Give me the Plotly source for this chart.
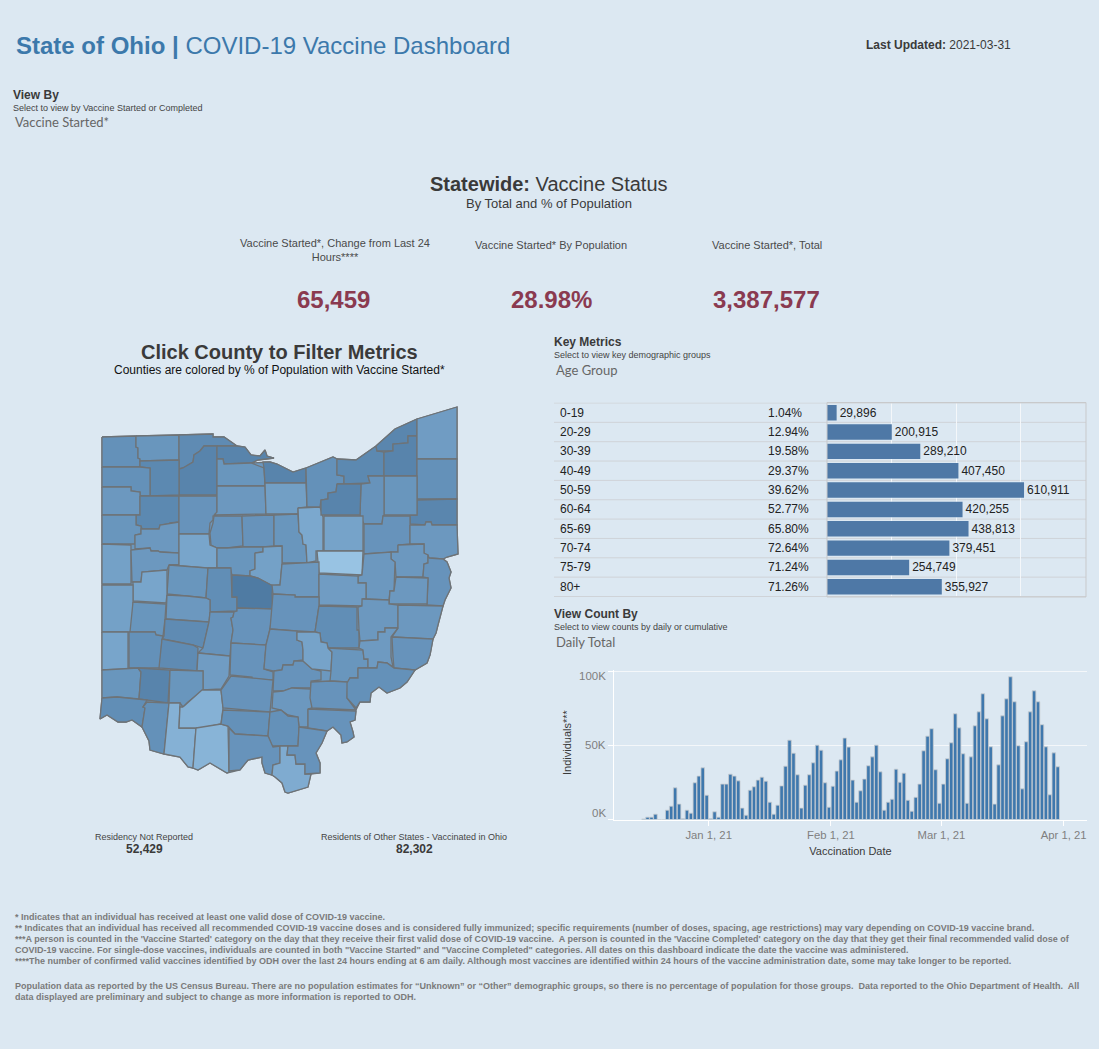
"""
State of Ohio COVID-19 vaccine dashboard, one page drawn with Plotly.
"""
import pandas as pd
import plotly.graph_objects as go
from plotly.colors import sample_colorscale

WIDTH = 1099
HEIGHT = 1049
BG = "#dce8f2"
FONT = "Liberation Sans"
DARK = "#3a3a3a"
SELECT_FONT = "Lato"

age_groups = ["0-19", "20-29", "30-39", "40-49", "50-59", "60-64", "65-69", "70-74", "75-79", "80+"]
age_pct = ["1.04%", "12.94%", "19.58%", "29.37%", "39.62%", "52.77%", "65.80%", "72.64%", "71.24%", "71.26%"]
age_started = [29896, 200915, 289210, 407450, 610911, 420255, 438813, 379451, 254749, 355927]

kpi_titles = ["Vaccine Started*, Change from Last 24<br>Hours****", "Vaccine Started* By Population", "Vaccine Started*, Total"]
kpi_values = ["65,459", "28.98%", "3,387,577"]

# first bar is 2020-12-15, last is 2021-03-30
first_day = "2020-12-15 12:00"
daily_started = [
    400, 1600, 1600, 3600, 0, 0, 6300, 9000, 21400, 10400, 500, 6300, 4300, 24800, 29300, 34900, 16400,
    500, 5200, 1600, 23900, 23900, 30600, 29300, 26100, 7700, 2900, 19800, 22100, 26600, 28600, 25900,
    11700, 3600, 9700, 22700, 36000, 53600, 44800, 30200, 7700, 23200, 30200, 38300, 50200, 46800, 24800, 8300,
    22500, 32700, 40300, 55000, 48900, 26600, 11700, 19400, 27300, 36300, 42300, 50200, 32200, 6300,
    11700, 13700, 34000, 25200, 31300, 13000, 5600, 15000, 23900, 46400, 56300, 61300, 33600, 11000,
    23900, 41000, 51800, 71400, 61900, 44400, 11000, 42300, 63300, 72700, 84900, 68000, 49100, 10400,
    36900, 70000, 81500, 96400, 79500, 49800, 20700, 52500, 72700, 86900, 79500, 64000, 49100, 16700,
    45000, 35600,
]
date_ticks = ["2021-01-01", "2021-02-01", "2021-03-01", "2021-04-01"]
count_ticks = [0, 50000, 100000]
count_tick_labels = ["0K", "50K", "100K"]

county_names = [
    "Williams", "Fulton", "Lucas", "Wood", "Ottawa", "Sandusky", "Erie", "Henry", "Defiance", "Paulding",
    "Putnam", "Van Wert", "Allen", "Hancock", "Seneca", "Huron", "Wyandot", "Crawford", "Richland", "Ashland",
    "Lorain", "Cuyahoga", "Lake", "Geauga", "Ashtabula", "Trumbull", "Mahoning", "Portage", "Summit", "Medina",
    "Wayne", "Stark", "Columbiana", "Holmes", "Carroll", "Tuscarawas", "Jefferson", "Harrison", "Mercer", "Auglaize",
    "Hardin", "Delaware", "Morrow", "Logan", "Union", "Shelby", "Champaign", "Darke", "Miami", "Clark",
    "Madison", "Franklin", "Fairfield", "Knox", "Coshocton", "Muskingum", "Guernsey", "Belmont", "Monroe", "Preble",
    "Montgomery", "Greene", "Fayette", "Pickaway", "Hocking", "Vinton", "Morgan", "Noble", "Perry", "Marion",
    "Butler", "Warren", "Clinton", "Hamilton", "Clermont", "Brown", "Highland", "Adams", "Ross", "Pike",
    "Licking", "Athens", "Washington", "Jackson", "Gallia", "Scioto", "Lawrence", "Meigs",
]
county_pct = [
    28, 26, 30, 33, 33, 26, 33, 31, 28, 25,
    31, 26, 25, 27, 25, 23.5, 27, 27, 26, 21.5,
    28, 31, 32, 33, 24, 28, 32, 26, 27, 33,
    22.5, 27, 25, 17, 25, 25, 27, 25, 23, 25,
    22, 26, 23, 26, 29, 22, 25, 23, 26, 30,
    27, 38, 27, 25, 24, 27, 29, 25, 25, 22,
    28, 30, 24, 27, 27, 27, 22.5, 26, 24.5, 27,
    26, 33, 26, 29, 28, 20, 20, 19.5, 27, 28,
    25, 27, 28, 28, 27, 27, 21, 27,
]
county_outlines = [
    [(102,437),(136,436),(136,447),(138,448),(138,458),(140,459),(140,467),(102,467)],
    [(136,436),(179,435),(179,460),(140,461),(140,459),(138,458),(138,448),(136,447)],
    [(179,435),(213,434),(213,437),(224,437),(237,446),(204,446),(200,451),(194,455),(193,462),(183,468),(179,469)],
    [(179,469),(183,468),(193,462),(194,455),(200,451),(204,446),(217,446),(217,495),(179,495)],
    [(217,446),(237,446),(245,447),(251,455),(260,456),(265,450),(267,456),(274,458),(258,460),(251,463),(224,464),(223,459),(217,459)],
    [(217,459),(223,459),(224,464),(251,463),(264,468),(265,486),(217,486)],
    [(264,468),(263,462),(270,462),(277,464),(293,472),(306,468),(306,483),(265,483)],
    [(140,461),(179,460),(179,495),(150,496),(150,468),(140,467)],
    [(102,467),(140,467),(150,468),(150,496),(140,496),(140,492),(131,491),(131,487),(102,487)],
    [(102,487),(131,487),(131,491),(140,492),(140,515),(102,515)],
    [(140,496),(179,496),(179,522),(170,523),(168,524),(160,525),(159,529),(142,529),(141,526),(136,525),(136,515),(140,515)],
    [(102,515),(136,515),(136,525),(141,526),(141,534),(135,535),(135,544),(102,544)],
    [(135,535),(141,534),(141,529),(142,529),(159,529),(160,525),(168,524),(170,523),(179,522),(179,553),(160,552),(158,551),(151,551),(150,548),(135,549),(135,544)],
    [(179,496),(217,496),(217,515),(213,516),(213,520),(210,523),(209,534),(179,534)],
    [(217,486),(265,486),(266,514),(214,515),(217,512)],
    [(265,483),(306,483),(307,507),(298,508),(298,514),(266,514)],
    [(214,516),(242,516),(243,546),(227,548),(217,548),(211,545),(210,533),(213,523)],
    [(242,516),(274,515),(274,546),(263,547),(243,547)],
    [(274,515),(298,514),(299,532),(302,535),(303,544),(306,545),(307,563),(282,563),(282,546),(274,546)],
    [(298,508),(320,507),(323,517),(323,551),(316,551),(316,561),(307,563),(306,545),(303,544),(302,535),(299,532)],
    [(306,468),(333,457),(337,459),(337,475),(344,476),(344,484),(337,484),(336,492),(328,493),(328,499),(321,500),(320,507),(307,507),(306,483)],
    [(337,459),(356,460),(376,446),(377,451),(384,452),(384,476),(368,476),(370,483),(344,484),(344,476),(337,475)],
    [(376,446),(395,429),(417,419),(417,436),(408,436),(408,443),(393,444),(393,451),(377,451)],
    [(384,452),(393,451),(393,444),(408,443),(408,436),(417,436),(417,476),(384,476)],
    [(417,419),(457,407),(457,459),(417,459)],
    [(417,459),(457,459),(457,499),(417,499)],
    [(417,500),(457,499),(457,525),(432,525),(431,522),(426,522),(425,525),(410,524),(410,515),(417,515)],
    [(384,476),(417,476),(417,515),(384,515)],
    [(361,484),(370,483),(368,476),(384,476),(384,515),(383,516),(382,524),(364,524),(360,515)],
    [(337,484),(361,484),(360,515),(321,515),(321,500),(328,499),(328,493),(336,492)],
    [(324,516),(363,516),(363,551),(324,551)],
    [(364,524),(382,524),(383,516),(410,516),(410,544),(398,545),(398,552),(364,554)],
    [(410,525),(425,525),(426,522),(431,522),(432,525),(457,525),(458,554),(447,557),(443,559),(429,558),(424,553),(424,544),(410,544)],
    [(317,551),(363,551),(362,575),(319,573)],
    [(398,545),(424,544),(424,553),(428,555),(428,563),(424,564),(423,577),(396,577),(395,562),(391,559),(391,552),(398,552)],
    [(364,554),(391,552),(391,559),(395,562),(394,591),(390,591),(389,600),(363,599),(366,599),(366,583),(358,583),(358,576),(362,575)],
    [(429,558),(443,559),(447,562),(451,572),(449,578),(451,588),(445,600),(443,606),(427,605),(428,578),(423,577),(424,564),(428,563),(428,555)],
    [(396,577),(428,578),(427,604),(389,604),(390,591),(394,591)],
    [(102,544),(131,545),(131,584),(102,584)],
    [(131,550),(150,548),(151,551),(158,551),(160,552),(179,553),(179,565),(169,565),(167,570),(142,572),(141,582),(132,582)],
    [(179,534),(209,534),(210,545),(217,548),(217,568),(208,568),(169,565),(179,565)],
    [(217,548),(227,548),(243,547),(263,547),(263,552),(255,553),(255,569),(250,571),(250,576),(232,575),(230,568),(217,568)],
    [(255,553),(263,552),(263,547),(282,546),(282,563),(280,585),(273,586),(258,578),(250,576),(250,571),(255,569)],
    [(169,565),(208,568),(206,598),(187,596),(167,594)],
    [(208,568),(231,568),(232,597),(237,597),(237,611),(210,612),(210,600),(206,598)],
    [(133,582),(141,582),(142,572),(167,570),(167,594),(166,603),(133,601)],
    [(167,595),(187,596),(206,598),(210,600),(210,612),(209,622),(166,619)],
    [(102,585),(133,585),(133,632),(102,632)],
    [(133,602),(166,604),(165,619),(163,636),(156,635),(155,632),(130,632)],
    [(165,619),(209,622),(203,648),(193,645),(173,641),(162,639),(164,636)],
    [(210,612),(234,612),(233,617),(231,618),(233,630),(231,643),(230,656),(198,653),(203,648),(209,622)],
    [(232,575),(250,576),(258,578),(273,586),(272,594),(273,609),(237,608),(237,597),(232,597)],
    [(237,608),(273,609),(270,629),(266,645),(231,643),(233,630),(231,618),(233,617),(234,612),(237,611)],
    [(282,564),(319,562),(319,597),(295,597),(295,595),(273,594),(272,585),(280,585)],
    [(319,574),(358,576),(358,583),(366,583),(366,599),(363,599),(362,606),(319,605)],
    [(273,594),(295,595),(295,597),(319,597),(319,605),(315,632),(297,631),(270,629)],
    [(319,606),(357,607),(357,630),(359,630),(359,648),(328,648),(327,643),(321,642),(320,633),(315,632)],
    [(358,607),(362,606),(362,599),(363,599),(389,600),(389,604),(398,605),(398,628),(385,628),(385,632),(378,632),(378,640),(360,641),(359,630)],
    [(398,605),(443,606),(438,625),(436,633),(433,639),(392,637),(398,628)],
    [(102,632),(128,632),(128,669),(102,670)],
    [(129,632),(155,632),(156,635),(163,636),(162,639),(160,668),(138,668),(129,668)],
    [(162,639),(173,641),(183,643),(193,645),(198,648),(197,671),(159,668)],
    [(198,653),(230,656),(229,676),(221,689),(203,690),(203,671),(197,671)],
    [(231,643),(266,645),(264,669),(273,672),(273,680),(252,679),(252,677),(230,675)],
    [(266,645),(270,629),(297,631),(297,640),(302,642),(303,650),(303,660),(294,661),(293,665),(283,665),(282,670),(273,671),(264,669)],
    [(274,671),(282,670),(283,665),(293,665),(294,661),(303,661),(312,669),(321,671),(321,680),(311,681),(311,688),(292,688),(283,691),(273,691)],
    [(297,632),(315,632),(320,633),(321,642),(327,643),(328,648),(332,652),(331,671),(312,669),(303,661),(303,650),(302,642),(297,640)],
    [(328,648),(363,650),(364,659),(368,659),(368,668),(358,668),(358,678),(350,678),(348,682),(330,681),(331,671),(332,652)],
    [(360,641),(378,640),(378,632),(385,632),(385,628),(398,628),(391,637),(391,657),(393,667),(387,663),(378,662),(377,668),(368,668),(368,659),(364,659),(363,650),(359,648)],
    [(392,637),(433,639),(431,650),(430,655),(427,663),(415,670),(394,668),(393,657)],
    [(102,670),(138,668),(141,672),(139,699),(117,697),(102,698)],
    [(138,668),(170,670),(168,703),(147,700),(139,699),(141,672)],
    [(170,670),(203,671),(203,690),(188,702),(183,707),(180,703),(169,703)],
    [(102,698),(117,697),(147,700),(143,707),(145,708),(142,727),(132,720),(126,722),(118,722),(107,715),(100,719)],
    [(147,702),(169,703),(164,754),(150,750),(149,741),(142,727),(145,708),(143,707)],
    [(169,703),(180,703),(179,728),(196,728),(193,768),(188,767),(180,757),(164,754)],
    [(183,707),(202,690),(221,690),(223,708),(221,724),(202,728),(179,728),(180,707)],
    [(196,728),(221,724),(228,726),(229,772),(227,773),(210,763),(198,770),(193,768)],
    [(221,690),(231,676),(273,680),(270,712),(223,708)],
    [(223,710),(270,712),(268,736),(235,734),(228,726),(221,724)],
    [(273,692),(283,691),(292,688),(311,689),(312,708),(308,709),(308,727),(299,727),(298,717),(288,715),(281,710),(272,708)],
    [(311,682),(330,681),(348,682),(347,698),(356,710),(312,708),(310,698)],
    [(358,668),(377,668),(378,662),(387,663),(394,668),(415,670),(407,682),(400,688),(387,693),(379,687),(371,693),(370,702),(360,702),(356,708),(347,698),(347,683),(350,678),(358,678)],
    [(270,712),(281,710),(288,716),(298,717),(299,727),(298,746),(282,746),(272,746),(268,736)],
    [(308,709),(356,711),(355,720),(350,722),(353,732),(354,737),(347,742),(342,743),(341,735),(333,727),(327,731),(308,728)],
    [(229,728),(235,734),(268,736),(273,747),(280,746),(280,763),(273,765),(272,775),(265,773),(262,763),(262,757),(248,760),(240,770),(229,771)],
    [(280,746),(288,746),(287,755),(295,755),(296,764),(305,764),(305,774),(311,774),(308,787),(288,793),(285,792),(282,783),(275,777),(272,775),(273,765),(280,763)],
    [(299,727),(327,731),(322,743),(316,753),(320,763),(320,773),(305,774),(305,764),(296,764),(295,755),(287,755),(288,746),(298,746)],
]
state_outline = [
    (102,437),(136,436),(179,435),(213,434),(213,437),(224,437),(237,446),(245,447),(251,455),(260,456),
    (265,450),(267,456),(274,458),(258,460),(251,463),(263,462),(270,462),(277,464),(293,472),(306,468),
    (333,457),(337,459),(356,460),(376,446),(395,429),(417,419),(457,407),(457,525),(458,554),(447,557),
    (443,559),(447,562),(451,572),(449,578),(451,588),(445,600),(443,606),(438,625),(436,633),(433,639),
    (431,650),(430,655),(427,663),(415,670),(407,682),(400,688),(387,693),(379,687),(371,693),(370,702),
    (360,702),(356,710),(355,720),(350,722),(353,732),(354,737),(347,742),(342,743),(341,735),(333,727),
    (327,731),(322,743),(316,753),(320,763),(320,773),(311,774),(308,787),(288,793),(285,792),(282,783),
    (275,777),(272,775),(265,773),(262,763),(262,757),(248,760),(240,770),(229,772),(227,773),(210,763),
    (198,770),(193,768),(188,767),(180,757),(164,754),(150,750),(149,741),(142,727),(132,720),(126,722),
    (118,722),(107,715),(100,719),(102,698),
]

pct_scale = [[0, "#98c3e3"], [0.24, "#78a5cb"], [0.38, "#6c98bf"], [0.52, "#6491b9"], [0.71, "#5a86ae"], [1, "#4f7ba3"]]

footnotes = [
    (917, "* Indicates that an individual has received at least one valid dose of COVID-19 vaccine."),
    (928, "** Indicates that an individual has received all recommended COVID-19 vaccine doses and is considered fully immunized; specific requirements (number of doses, spacing, age restrictions) may vary depending on COVID-19 vaccine brand."),
    (939, "***A person is counted in the 'Vaccine Started' category on the day that they receive their first valid dose of COVID-19 vaccine.  A person is counted in the 'Vaccine Completed' category on the day that they get their final recommended valid dose of"),
    (950, "COVID-19 vaccine. For single-dose vaccines, individuals are counted in both \"Vaccine Started\" and \"Vaccine Completed\" categories. All dates on this dashboard indicate the date the vaccine was administered."),
    (961, "****The number of confirmed valid vaccines identified by ODH over the last 24 hours ending at 6 am daily. Although most vaccines are identified within 24 hours of the vaccine administration date, some may take longer to be reported."),
    (986, "Population data as reported by the US Census Bureau. There are no population estimates for “Unknown” or “Other” demographic groups, so there is no percentage of population for those groups.  Data reported to the Ohio Department of Health.  All"),
    (997, "data displayed are preliminary and subject to change as more information is reported to ODH."),
]


def px_x(x):
    return x / WIDTH


def px_y(y):
    return 1 - y / HEIGHT


def note(x, y, text, size, color=DARK, anchor="left", family=FONT):
    if anchor == "left":
        x -= 1
    fig.add_annotation(
        x=px_x(x), y=px_y(y), xref="paper", yref="paper", text=text, showarrow=False,
        xanchor=anchor, yanchor="middle", align=anchor, borderpad=0,
        font=dict(family=family, size=size, color=color),
    )


fig = go.Figure()

# County map, units are the page's own pixels
pct_low, pct_high = 17, 38
fig.add_trace(go.Scatter(
    x=[p[0] for p in state_outline] + [state_outline[0][0]],
    y=[p[1] for p in state_outline] + [state_outline[0][1]],
    mode="lines", fill="toself", fillcolor="#6c98bf", name="Ohio",
    line=dict(color="#6e7377", width=1.3), xaxis="x3", yaxis="y3", showlegend=False,
))
for name, outline, pct in zip(county_names, county_outlines, county_pct):
    shade = sample_colorscale(pct_scale, (pct - pct_low) / (pct_high - pct_low))[0]
    xs = [p[0] for p in outline] + [outline[0][0]]
    ys = [p[1] for p in outline] + [outline[0][1]]
    fig.add_trace(go.Scatter(
        x=xs, y=ys, mode="lines", fill="toself", fillcolor=shade, name=name,
        line=dict(color="#6e7377", width=1.3), xaxis="x3", yaxis="y3", showlegend=False,
    ))

# Age group bars
fig.add_trace(go.Bar(
    x=age_started, y=age_groups, orientation="h", width=0.8, marker=dict(color="#4e78a6", line_width=0),
    text=[f"{v:,}" for v in age_started], textposition="outside", cliponaxis=False,
    textfont=dict(family=FONT, size=12, color="#222222"), xaxis="x", yaxis="y", showlegend=False,
))

# Daily totals
days = pd.date_range(first_day, periods=len(daily_started), freq="D").strftime("%Y-%m-%d %H:%M").tolist()
fig.add_trace(go.Bar(
    x=days, y=daily_started, width=0.9 * 86400000,
    marker=dict(color="#3f78ad", line=dict(color="#c9cdd1", width=0.8)),
    xaxis="x2", yaxis="y2", showlegend=False,
))

fig.update_layout(
    width=WIDTH, height=HEIGHT, margin=dict(l=0, r=0, t=0, b=0),
    paper_bgcolor=BG, plot_bgcolor=BG, font=dict(family=FONT, color=DARK), showlegend=False,
    xaxis=dict(
        domain=[px_x(827), px_x(1086)], range=[0, 803000], dtick=200000, showticklabels=False,
        gridcolor="#f4f7fa", gridwidth=1, zeroline=False, anchor="y",
    ),
    yaxis=dict(
        domain=[px_y(597), px_y(402.5)], autorange="reversed", type="category",
        showticklabels=False, showgrid=False, zeroline=False, anchor="x",
    ),
    xaxis2=dict(
        domain=[px_x(614), px_x(1087)], type="date", range=["2020-12-08", "2021-04-06 22:00"],
        tickvals=date_ticks, tickformat="%b %-d, %y", ticks="outside", ticklen=5, tickcolor="#ffffff",
        tickfont=dict(size=11.3, color="#7f7f7f"), showgrid=False, zeroline=False,
        showline=True, linecolor="#ffffff", linewidth=1, anchor="y2",
        title=dict(text="Vaccination Date", font=dict(size=11, color=DARK), standoff=7),
    ),
    yaxis2=dict(
        domain=[px_y(819.5), px_y(669.5)], range=[0, 101300], tickvals=count_ticks, ticks="outside",
        ticklen=5, tickcolor="#ffffff", showticklabels=False, gridcolor="#f4f7fa", gridwidth=1,
        zeroline=False, showline=True, linecolor="#ffffff", linewidth=1, anchor="x2",
    ),
    xaxis3=dict(domain=[px_x(90), px_x(470)], range=[90, 470], visible=False, anchor="y3"),
    yaxis3=dict(domain=[px_y(800), px_y(400)], range=[800, 400], visible=False, anchor="x3"),
)

# Row rules of the metrics table
for i in range(len(age_groups) + 1):
    fig.add_shape(
        type="line", xref="paper", yref="y", x0=px_x(554), x1=px_x(1086), y0=i - 0.5, y1=i - 0.5,
        line=dict(color="#cfd3d8", width=1), layer="below" if 0 < i < len(age_groups) else "above",
    )
fig.add_shape(
    type="rect", xref="paper", yref="paper", x0=px_x(827), x1=px_x(1086), y0=px_y(597), y1=px_y(402.5),
    line=dict(color="#c8c9cb", width=1), layer="above",
)

for group, pct in zip(age_groups, age_pct):
    fig.add_annotation(
        x=px_x(558), y=group, xref="paper", yref="y", text=group, showarrow=False, xanchor="left",
        font=dict(family=FONT, size=12, color="#222222"),
    )
    fig.add_annotation(
        x=px_x(766), y=group, xref="paper", yref="y", text=pct, showarrow=False, xanchor="left",
        font=dict(family=FONT, size=12, color="#222222"),
    )

# Tableau pulls the outer tick labels inside the axis
label_shift = {0: 7, 50000: 0, 100000: -5}
for value, label in zip(count_ticks, count_tick_labels):
    fig.add_annotation(
        x=px_x(608), y=value, xref="paper", yref="y2", text=label, showarrow=False, xanchor="right",
        yshift=label_shift[value], font=dict(family=FONT, size=11.5, color="#7f7f7f"),
    )
fig.add_annotation(
    x=px_x(567), y=px_y(742), xref="paper", yref="paper", text="Individuals***", showarrow=False,
    textangle=-90, xanchor="center", yanchor="middle", font=dict(family=FONT, size=11, color=DARK),
)

# Header
note(16, 46, "<b>State of Ohio | </b>COVID-19 Vaccine Dashboard", 24, color="#3c79ab")
note(866, 45, "<b>Last Updated:</b> 2021-03-31", 12)
note(13, 95, "<b>View By</b>", 12)
note(13, 108, "Select to view by Vaccine Started or Completed", 9, color="#444444")
note(15, 122, "Vaccine Started*", 13, color="#666666", family=SELECT_FONT)

note(549, 184, "<b>Statewide:</b> Vaccine Status", 20, anchor="center")
note(549, 203, "By Total and % of Population", 13, anchor="center")

for x, title, value in zip([335, 551, 767], kpi_titles, kpi_values):
    note(x, 245 if "<br>" not in title else 250.5, title, 11, color="#4a4a4a", anchor="center")
for x, value in zip([333, 551, 766], kpi_values):
    note(x, 300, f"<b>{value}</b>", 24, color="#8a3a50", anchor="center")

note(279, 352, "<b>Click County to Filter Metrics</b>", 20, anchor="center")
note(279, 370, "Counties are colored by % of Population with Vaccine Started*", 12, color="#111111", anchor="center")

note(554, 342, "<b>Key Metrics</b>", 12)
note(554, 355, "Select to view key demographic groups", 9, color="#444444")
note(556, 370, "Age Group", 13, color="#666666", family=SELECT_FONT)

note(554, 614, "<b>View Count By</b>", 12)
note(554, 627, "Select to view counts by daily or cumulative", 9, color="#444444")
note(556, 642, "Daily Total", 13, color="#666666", family=SELECT_FONT)

note(144, 837, "Residency Not Reported", 9, color="#444444", anchor="center")
note(144, 849, "<b>52,429</b>", 12, anchor="center")
note(414, 837, "Residents of Other States - Vaccinated in Ohio", 9, color="#444444", anchor="center")
note(414, 849, "<b>82,302</b>", 12, anchor="center")

for y, line in footnotes:
    note(15, y, f"<b>{line}</b>", 9, color="#7a7a7a")

fig.write_html(
    "out.html",
    config={"displayModeBar": False},
    post_script="document.body.style.margin='0';document.body.style.overflow='hidden';",
)
